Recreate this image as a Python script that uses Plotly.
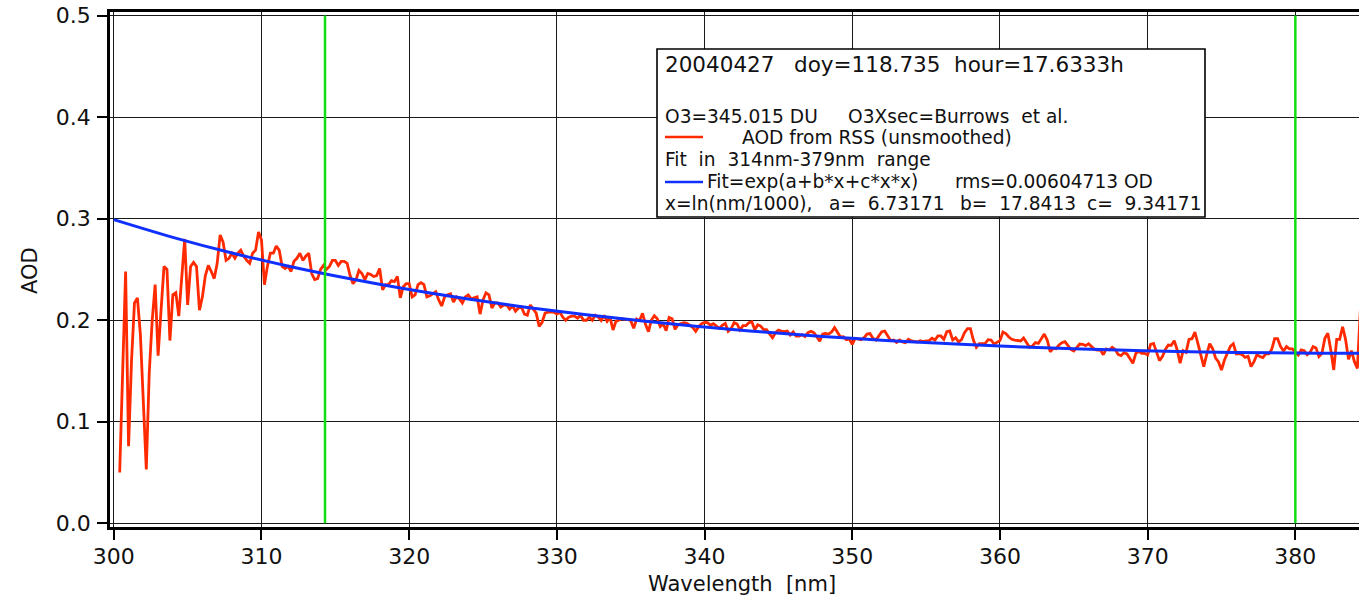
import plotly.graph_objects as go
import numpy as np

# ---------------- data ----------------
# AOD from RSS (unsmoothed), sampled every 0.2 nm, split in segments (start wavelength, values)
SEG_A_START = 300.4
SEG_A = [0.050, 0.155, 0.248, 0.076, 0.160, 0.217, 0.222, 0.186, 0.125, 0.053,
         0.148, 0.200, 0.235, 0.165, 0.210, 0.253, 0.250, 0.180, 0.225, 0.227,
         0.204, 0.240, 0.280, 0.215, 0.253, 0.257, 0.253, 0.210, 0.223, 0.244,
         0.254, 0.248, 0.241, 0.256, 0.284, 0.277, 0.259, 0.261, 0.266, 0.261,
         0.266, 0.269, 0.263, 0.259, 0.256, 0.266, 0.269, 0.287, 0.279, 0.235,
         0.253, 0.266, 0.266, 0.273, 0.269, 0.253, 0.251, 0.253, 0.248, 0.258,
         0.261, 0.266, 0.259, 0.263, 0.266, 0.246, 0.240, 0.241, 0.250, 0.254,
         0.250, 0.253, 0.259, 0.259, 0.254, 0.258]
SEG_B_START = 315.6
SEG_B = [0.258, 0.256, 0.244, 0.236, 0.240, 0.249, 0.246, 0.240, 0.246, 0.245,
         0.243, 0.244, 0.251, 0.230, 0.235, 0.235, 0.239, 0.238, 0.243, 0.222,
         0.233, 0.236, 0.236, 0.223, 0.225, 0.235, 0.237, 0.235, 0.223, 0.224,
         0.226, 0.228, 0.220, 0.214, 0.223, 0.225, 0.226, 0.218, 0.223, 0.221,
         0.217, 0.223, 0.225, 0.221, 0.222, 0.223, 0.206, 0.220, 0.227, 0.225,
         0.212, 0.217, 0.217, 0.213, 0.215, 0.215, 0.211, 0.214, 0.209, 0.212,
         0.213, 0.206, 0.205, 0.215, 0.211, 0.207, 0.194, 0.198, 0.207, 0.208,
         0.208, 0.208, 0.206, 0.208, 0.203, 0.200, 0.203, 0.204, 0.204, 0.202,
         0.205, 0.200, 0.200, 0.203, 0.200, 0.205, 0.203]
SEG_C_START = 333.0
SEG_C = [0.1996, 0.2048, 0.1989, 0.2028, 0.1904, 0.1989, 0.2002, 0.2015, 0.2009, 0.2009,
         0.1996, 0.1920, 0.2012, 0.1996, 0.2068, 0.1960, 0.1887, 0.2002, 0.2045, 0.2015,
         0.1937, 0.1963, 0.1897, 0.2028, 0.2015, 0.1910, 0.1956, 0.1969, 0.1976, 0.1969,
         0.1950, 0.1930, 0.1891, 0.1937, 0.1966, 0.1979, 0.1976, 0.1950, 0.1966, 0.1946,
         0.1920, 0.1950, 0.1969, 0.1891, 0.1917, 0.1976, 0.1963, 0.1904, 0.1946, 0.1946,
         0.1976, 0.1986, 0.1907, 0.1956, 0.1943, 0.1907, 0.1907, 0.1864, 0.1828, 0.1877,
         0.1904, 0.1894, 0.1887, 0.1894, 0.1854, 0.1884, 0.1844, 0.1844, 0.1858, 0.1838,
         0.1877, 0.1891, 0.1877, 0.1838, 0.1792, 0.1864, 0.1871, 0.1864, 0.1884, 0.1927,
         0.1880, 0.1835, 0.1838, 0.1809]
SEG_D_START = 349.8
SEG_D = [0.1815, 0.1763, 0.1822, 0.1818, 0.1809, 0.1828, 0.1864, 0.1868, 0.1822, 0.1805,
         0.1845, 0.1887, 0.1894, 0.1845, 0.1799, 0.1805, 0.1782, 0.1805, 0.1786, 0.1779,
         0.1812, 0.1796, 0.1789, 0.1786, 0.1799, 0.1789, 0.1796, 0.1799, 0.1822, 0.1805,
         0.1845, 0.1845, 0.1812, 0.1887, 0.1894, 0.1805, 0.1828, 0.1786, 0.1809, 0.1877,
         0.1917, 0.1917, 0.1805, 0.1733, 0.1769, 0.1772, 0.1772, 0.1809, 0.1805, 0.1766,
         0.1782, 0.1799, 0.1884, 0.1868, 0.1835, 0.1812, 0.1805, 0.1799, 0.1796, 0.1825,
         0.1776, 0.1733, 0.1746, 0.1779, 0.1772, 0.1815, 0.1864, 0.1805, 0.1690, 0.1723,
         0.1720, 0.1756, 0.1779, 0.1789, 0.1746, 0.1713, 0.1697, 0.1730, 0.1766, 0.1763,
         0.1750, 0.1769, 0.1740, 0.1713, 0.1707]
SEG_E_START = 366.8
SEG_E = [0.1707, 0.1661, 0.1717, 0.1707, 0.1733, 0.1713, 0.1664, 0.1651, 0.1681, 0.1668,
         0.1625, 0.1576, 0.1674, 0.1694, 0.1674, 0.1674, 0.1658, 0.1763, 0.1772, 0.1697,
         0.1602, 0.1642, 0.1713, 0.1756, 0.1753, 0.1799, 0.1707, 0.1576, 0.1700, 0.1684,
         0.1812, 0.1818, 0.1884, 0.1772, 0.1642, 0.1543, 0.1664, 0.1769, 0.1720, 0.1628,
         0.1589, 0.1510, 0.1608, 0.1674, 0.1743, 0.1769, 0.1668, 0.1671, 0.1661, 0.1635,
         0.1645, 0.1543, 0.1592, 0.1661, 0.1642, 0.1632, 0.1668, 0.1668, 0.1713, 0.1818,
         0.1818, 0.1740, 0.1697, 0.1740, 0.1717, 0.1717, 0.1684, 0.1658, 0.1707, 0.1700,
         0.1661, 0.1684, 0.1740, 0.1727, 0.1642, 0.1674, 0.1822, 0.1871, 0.1707, 0.1510,
         0.1812, 0.1812, 0.1936, 0.1812, 0.1615, 0.1700, 0.1592, 0.1526, 0.2100]
WL_STEP = 0.2

# Fit curve values (every 4 nm)
FIT_WL = [300, 304, 308, 312, 316, 320, 324, 328, 332, 336, 340, 344,
          348, 352, 356, 360, 364, 368, 372, 376, 380, 384, 384.4]
FIT_AOD = [0.2990, 0.2816, 0.2662, 0.2527, 0.2408, 0.2302, 0.2209, 0.2126,
           0.2053, 0.1989, 0.1933, 0.1884, 0.1841, 0.1804, 0.1773, 0.1746,
           0.1724, 0.1707, 0.1693, 0.1683, 0.1677, 0.1675, 0.1675]

# Fit range markers (green lines)
RANGE_MARKS = [314.3, 380.0]
RANGE_Y = [0.0, 0.5]

X_TICKS = [300, 310, 320, 330, 340, 350, 360, 370, 380]
Y_TICKS = [0.0, 0.1, 0.2, 0.3, 0.4, 0.5]

# ---------------- build ----------------
wl, aod = [], []
for start, seg in [(SEG_A_START, SEG_A), (SEG_B_START, SEG_B), (SEG_C_START, SEG_C),
                   (SEG_D_START, SEG_D), (SEG_E_START, SEG_E)]:
    wl.extend(np.round(start + WL_STEP * np.arange(len(seg)), 2).tolist())
    aod.extend(seg)

RED = "#FF2A00"
BLUE = "#1030FF"
GREEN = "#12DD12"
FONT = "DejaVu Sans"

fig = go.Figure()
fig.add_trace(go.Scatter(x=wl, y=aod, mode="lines",
                         line=dict(color=RED, width=2.8), showlegend=False))
fig.add_trace(go.Scatter(x=FIT_WL, y=FIT_AOD, mode="lines",
                         line=dict(color=BLUE, width=3, shape="spline"), showlegend=False))
for xm in RANGE_MARKS:
    fig.add_trace(go.Scatter(x=[xm, xm], y=RANGE_Y, mode="lines",
                             line=dict(color=GREEN, width=2.5), showlegend=False))

# plot area in pixels
L, R, T, B = 110, 1359, 12, 527
W, H = 1359, 602


def px(x):
    return (x - L) / (R - L)


def py(y):
    return (B - y) / (B - T)


# legend box
BOX = dict(x0=657, x1=1205, y0=49, y1=217)
fig.add_shape(type="rect", xref="paper", yref="paper",
              x0=px(BOX["x0"]), x1=px(BOX["x1"]), y0=py(BOX["y1"]), y1=py(BOX["y0"]),
              line=dict(color="black", width=1.6), fillcolor="white", layer="above")
fig.add_shape(type="line", xref="paper", yref="paper",
              x0=px(665), x1=px(703), y0=py(137), y1=py(137),
              line=dict(color=RED, width=2.5), layer="above")
fig.add_shape(type="line", xref="paper", yref="paper",
              x0=px(665), x1=px(703), y0=py(182), y1=py(182),
              line=dict(color=BLUE, width=2.5), layer="above")

NB = "\u00a0"
legend_texts = [
    (663, 64, "20040427", 21.5),
    (792, 64, "doy=118.735", 21.5),
    (952, 64, "hour=17.6333h", 21.5),
    (663, 116, "O3=345.015" + NB + "DU", 18.6),
    (846, 116, "O3Xsec=Burrows" + NB + NB + "et" + NB + "al.", 18.6),
    (740, 137, "AOD" + NB + "from" + NB + "RSS" + NB + "(unsmoothed)", 18.6),
    (663, 159, "Fit" + NB + NB + "in" + NB + NB + "314nm-379nm" + NB + NB + "range", 18.6),
    (705, 182, "Fit=exp(a+b*x+c*x*x)", 18.6),
    (953, 182, "rms=0.00604713" + NB + "OD", 18.6),
    (663, 203, "x=ln(nm/1000),", 18.6),
    (827, 203, "a=" + NB + NB + "6.73171", 18.6),
    (958, 203, "b=" + NB + NB + "17.8413", 18.6),
    (1085, 203, "c=" + NB + NB + "9.34171", 18.6),
]
for x, y, t, s in legend_texts:
    fig.add_annotation(x=px(x), y=py(y), xref="paper", yref="paper", text=t,
                       showarrow=False, xanchor="left", yanchor="middle",
                       font=dict(family=FONT, size=s, color="#111"))

# axis titles placed at their reference positions
fig.add_annotation(x=px(742), y=py(584), xref="paper", yref="paper",
                   text="Wavelength" + NB + NB + "[nm]", showarrow=False,
                   xanchor="center", yanchor="middle",
                   font=dict(family=FONT, size=21, color="#111"))
fig.add_annotation(x=px(30), y=py(271), xref="paper", yref="paper",
                   text="AOD", showarrow=False, textangle=-90,
                   xanchor="center", yanchor="middle",
                   font=dict(family=FONT, size=21, color="#111"))

fig.update_layout(
    width=W, height=H,
    margin=dict(l=L, r=W - R, t=T, b=H - B, autoexpand=False),
    paper_bgcolor="white", plot_bgcolor="white",
    font=dict(family=FONT, color="#111"),
)
fig.update_xaxes(
    range=[299.743, 384.31], tickvals=X_TICKS, ticktext=[str(v) for v in X_TICKS],
    showgrid=True, gridcolor="#1a1a1a", gridwidth=1.3, zeroline=False,
    showline=True, linecolor="black", linewidth=2.6, mirror=True,
    ticks="outside", ticklen=10, tickwidth=2.2, tickcolor="black",
    tickfont=dict(size=22, family=FONT), ticklabelstandoff=-2, automargin=False,
)
fig.update_yaxes(
    range=[-0.0036, 0.5035], tickvals=Y_TICKS, ticktext=[f"{v:.1f}" for v in Y_TICKS],
    showgrid=True, gridcolor="#1a1a1a", gridwidth=1.3, zeroline=False,
    showline=True, linecolor="black", linewidth=2.6, mirror=False,
    ticks="outside", ticklen=10, tickwidth=2.2, tickcolor="black",
    tickfont=dict(size=22, family=FONT), ticklabelstandoff=2, automargin=False,
)

# remove the browser's default 8px page margin so the figure sits at the top-left corner
POST_JS = ("document.body.style.margin='0';document.body.style.padding='0';"
           "document.documentElement.style.overflow='hidden';")
fig.write_html("out.html", post_script=POST_JS, config={"displayModeBar": False})
